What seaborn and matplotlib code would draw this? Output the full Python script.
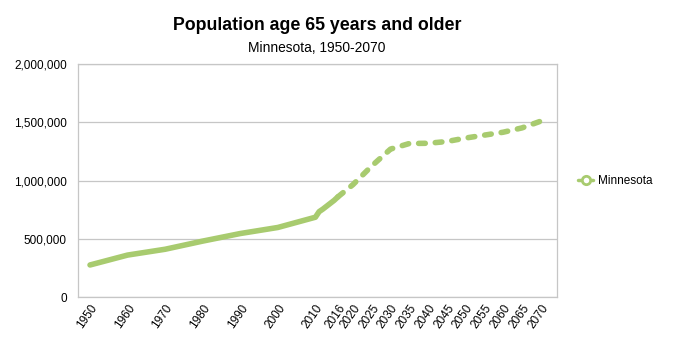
import pandas as pd
import seaborn as sns
import matplotlib.pyplot as plt
from matplotlib.lines import Line2D
from matplotlib.ticker import FuncFormatter

# estimates (solid) and projections (dashed)
est_years = [1950, 1960, 1970, 1980, 1990, 2000, 2010, 2011, 2012, 2013, 2014, 2015, 2016]
est_values = [275000, 360000, 410000, 480000, 545000, 597000, 685000, 733000, 755000,
              780000, 805000, 830000, 860000]
proj_years = [2016, 2020, 2025, 2030, 2035, 2040, 2045, 2050, 2055, 2060, 2065, 2070]
proj_values = [860000, 965000, 1125000, 1270000, 1318000, 1320000, 1335000, 1365000,
               1390000, 1415000, 1452000, 1510000]
tick_years = [1950, 1960, 1970, 1980, 1990, 2000, 2010, 2016, 2020, 2025, 2030, 2035,
              2040, 2045, 2050, 2055, 2060, 2065, 2070]

df = pd.concat([
    pd.DataFrame({"year": est_years, "pop": est_values, "kind": "estimate"}),
    pd.DataFrame({"year": proj_years, "pop": proj_values, "kind": "projection"}),
])

sns.set_style("white")
plt.rcParams['font.family'] = ['Liberation Sans', 'DejaVu Sans']
plt.rcParams['text.color'] = 'black'

green = "#a8cb6f"
fig = plt.figure(figsize=(6.8, 3.6), dpi=100)
ax = fig.add_axes([0.1147, 0.175, 0.7043, 0.647])

sns.lineplot(data=df, x="year", y="pop", style="kind", color=green,
             dashes={"estimate": "", "projection": (1.2, 1.8)},
             estimator=None, linewidth=4, legend=False, ax=ax,
             solid_capstyle="round", dash_capstyle="round")

ax.set_xlim(1946.8, 2074.3)
ax.set_ylim(0, 2000000)
ax.set_yticks([0, 500000, 1000000, 1500000, 2000000])
ax.yaxis.set_major_formatter(FuncFormatter(lambda v, p: f"{int(v):,}"))
ax.set_xticks(tick_years)
ax.set_xticklabels([str(y) for y in tick_years], rotation=55, ha="right",
                   rotation_mode="anchor")
ax.tick_params(axis="both", length=0, labelsize=8.5, labelcolor="black")
ax.tick_params(axis="y", pad=8)
ax.tick_params(axis="x", pad=4)
ax.grid(axis="y", color="#c6c6c6", linewidth=0.9)
for s in ax.spines.values():
    s.set_color("#c6c6c6")
    s.set_linewidth(0.9)
ax.set_xlabel("")
ax.set_ylabel("")

fig.text(0.466, 0.93, "Population age 65 years and older", ha="center", va="center",
         fontsize=12.8, fontweight="bold", color="black")
fig.text(0.466, 0.868, "Minnesota, 1950-2070", ha="center", va="center",
         fontsize=9.9, color="black")

handle = Line2D([], [], color=green, linewidth=2.5, marker="o", markersize=6,
                markerfacecolor="white", markeredgecolor=green, markeredgewidth=2)
fig.legend(handles=[handle], labels=["Minnesota"], loc="center left",
           bbox_to_anchor=(0.835, 0.497), frameon=False, fontsize=8.5,
           handlelength=1.2, handletextpad=0.5)

fig.savefig("out.png", dpi=100)
